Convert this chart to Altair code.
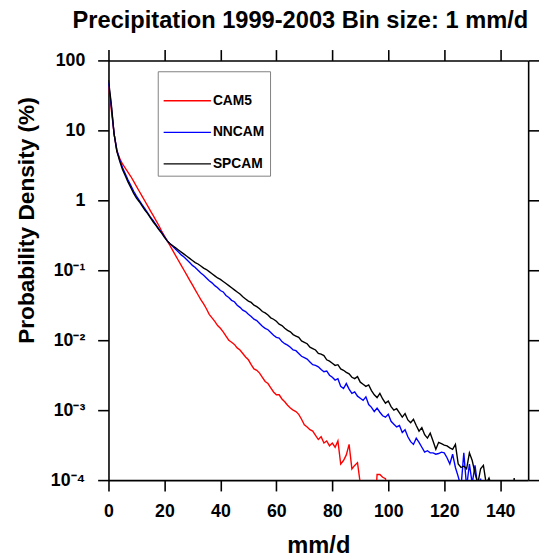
import altair as alt
import pandas as pd

x_ticks = [0, 20, 40, 60, 80, 100, 120, 140]
y_ticks = [1e-4, 1e-3, 1e-2, 1e-1, 1, 10, 100]
series_names = ["CAM5", "NNCAM", "SPCAM"]
series_colors = ["#ff0000", "#0000ff", "#000000"]

# log10 of probability density (%) per 1 mm/d bin, starting at 0 mm/d
cam5_log = [
    1.63, 1.30, 0.95, 0.70, 0.60, 0.52, 0.46, 0.40, 0.34, 0.27,
    0.20, 0.13, 0.06, -0.01, -0.08, -0.15, -0.22, -0.29, -0.36, -0.44,
    -0.51, -0.58, -0.65, -0.72, -0.79, -0.86, -0.93, -1.00, -1.07, -1.14,
    -1.21, -1.28, -1.35, -1.42, -1.48, -1.55, -1.63, -1.68, -1.73, -1.79,
    -1.83, -1.88, -1.94, -2.00, -2.03, -2.06, -2.11, -2.14, -2.19, -2.24,
    -2.28, -2.35, -2.41, -2.43, -2.47, -2.53, -2.59, -2.62, -2.68, -2.74,
    -2.78, -2.78, -2.84, -2.88, -2.93, -2.97, -3.00, -3.02, -3.06, -3.13,
    -3.21, -3.24, -3.28, -3.30, -3.36, -3.42, -3.38, -3.47, -3.44, -3.51,
    -3.47, -3.53, -3.44, -3.77, -3.72, -3.64, -3.49, -3.84, -3.79, -3.75,
    -4.05, -4.30, -4.60, -4.60, -4.60, -4.60, -3.92, -3.92, -3.96, -3.98,
    -4.30,
]
nncam_log = [
    1.68, 1.35, 0.95, 0.72, 0.58, 0.47, 0.38, 0.29, 0.21, 0.13,
    0.06, 0.00, -0.06, -0.12, -0.18, -0.24, -0.29, -0.35, -0.41, -0.46,
    -0.52, -0.58, -0.62, -0.66, -0.70, -0.74, -0.78, -0.81, -0.85, -0.89,
    -0.93, -0.96, -1.00, -1.04, -1.07, -1.11, -1.15, -1.18, -1.22, -1.25,
    -1.29, -1.31, -1.36, -1.39, -1.43, -1.45, -1.50, -1.53, -1.57, -1.59,
    -1.63, -1.66, -1.70, -1.72, -1.76, -1.80, -1.83, -1.85, -1.89, -1.93,
    -1.96, -1.97, -2.02, -2.05, -2.07, -2.10, -2.14, -2.15, -2.19, -2.23,
    -2.25, -2.27, -2.31, -2.35, -2.36, -2.38, -2.42, -2.45, -2.44, -2.50,
    -2.53, -2.57, -2.55, -2.66, -2.69, -2.62, -2.70, -2.76, -2.74, -2.80,
    -2.83, -2.86, -2.81, -2.92, -2.96, -3.02, -2.97, -3.03, -3.08, -3.10,
    -3.06, -3.16, -3.20, -3.24, -3.22, -3.32, -3.28, -3.38, -3.45, -3.49,
    -3.40, -3.46, -3.53, -3.60, -3.58, -3.61, -3.61, -3.63, -3.62, -3.60,
    -3.61, -3.68, -3.77, -3.63, -3.82, -3.95, -4.10, -3.61, -4.10, -3.77,
    -4.05, -3.79, -4.10, -3.98, -4.30, -4.60, -4.60,
]
spcam_log = [
    1.72, 1.38, 0.95, 0.70, 0.56, 0.44, 0.35, 0.26, 0.18, 0.10,
    0.03, -0.02, -0.08, -0.14, -0.19, -0.25, -0.31, -0.36, -0.42, -0.47,
    -0.53, -0.58, -0.62, -0.65, -0.68, -0.71, -0.74, -0.77, -0.80, -0.83,
    -0.86, -0.89, -0.91, -0.94, -0.97, -0.99, -1.02, -1.05, -1.08, -1.11,
    -1.13, -1.16, -1.19, -1.22, -1.25, -1.28, -1.31, -1.34, -1.38, -1.41,
    -1.44, -1.46, -1.50, -1.52, -1.55, -1.59, -1.61, -1.64, -1.68, -1.70,
    -1.73, -1.77, -1.79, -1.83, -1.86, -1.88, -1.92, -1.94, -1.96, -2.01,
    -2.03, -2.05, -2.10, -2.12, -2.14, -2.19, -2.20, -2.22, -2.28, -2.30,
    -2.33, -2.36, -2.35, -2.41, -2.43, -2.46, -2.48, -2.53, -2.55, -2.52,
    -2.60, -2.63, -2.66, -2.64, -2.72, -2.78, -2.82, -2.76, -2.84, -2.90,
    -2.87, -2.95, -3.00, -2.98, -3.04, -3.10, -3.05, -3.14, -3.18, -3.13,
    -3.22, -3.30, -3.25, -3.35, -3.40, -3.33, -3.44, -3.56, -3.46, -3.48,
    -3.50, -3.51, -3.54, -3.56, -3.49, -3.77, -3.82, -3.80, -3.84, -3.61,
    -3.72, -3.90, -4.05, -3.84, -3.79, -4.05, -3.97, -4.10, -4.30, -4.60,
    -4.60, -4.60, -4.60, -4.60, -4.60, -3.97, -4.60,
]

rows = []
for name, logs in zip(series_names, [cam5_log, nncam_log, spcam_log]):
    for i, lv in enumerate(logs):
        rows.append({"rain": i, "pdf": 10 ** lv, "model": name})
df = pd.DataFrame(rows)

FONT = "Liberation Sans"
xscale = alt.Scale(domain=[0, 150], nice=False, zero=False)
yscale = alt.Scale(type="log", domain=[1e-4, 100], nice=False)

label_expr = (
    "datum.value >= 1 ? format(datum.value, 'd') : "
    "datum.value > 0.05 ? '10⁻¹' : datum.value > 0.005 ? '10⁻²' : "
    "datum.value > 0.0005 ? '10⁻³' : '10⁻⁴'"
)

lines = alt.Chart(df).mark_line(clip=True, strokeWidth=1.4).encode(
    x=alt.X(
        "rain:Q", scale=xscale,
        axis=alt.Axis(
            orient="bottom", values=x_ticks, title="mm/d", labelFlush=False,
            labelPadding=12, titleFontSize=24, titleY=74, titleBaseline="alphabetic",
        ),
    ),
    y=alt.Y(
        "pdf:Q", scale=yscale,
        axis=alt.Axis(
            orient="left", values=y_ticks, labelExpr=label_expr,
            title="Probability Density (%)", labelFlush=False, labelPadding=13,
            titleFontSize=23, titleAngle=270, titleX=-83, titleY=162,
            titleBaseline="middle", titleAlign="center",
        ),
    ),
    color=alt.Color(
        "model:N",
        scale=alt.Scale(domain=series_names, range=series_colors),
        legend=alt.Legend(
            orient="none", legendX=50, legendY=11, title=None,
            symbolType="stroke", symbolSize=2304, symbolStrokeWidth=1.4,
            labelFont=FONT, labelFontSize=14, labelFontWeight="bold",
            labelColor="black", labelOffset=1, strokeColor="#808080",
            fillColor="white", padding=5, rowPadding=0,
        ),
    ),
)

frame = alt.Chart(df).mark_line(opacity=0).encode(
    x=alt.X(
        "rain:Q", scale=xscale,
        axis=alt.Axis(orient="top", values=x_ticks, labels=False, title=None),
    ),
    y=alt.Y(
        "pdf:Q", scale=yscale,
        axis=alt.Axis(orient="right", values=y_ticks, labels=False, title=None),
    ),
    detail="model:N",
)

chart = (
    alt.layer(lines, frame)
    .resolve_axis(x="independent", y="independent")
    .properties(
        width=426,
        height=426,
        title=alt.Title(
            "Precipitation 1999-2003 Bin size: 1 mm/d", anchor="end", frame="group",
            fontSize=24, font=FONT, fontWeight="bold", color="black", offset=16,
        ),
        autosize=alt.AutoSizeParams(type="none"),
        padding={"left": 102, "top": 49, "right": 11, "bottom": 84},
    )
    .configure_view(stroke=None)
    .configure_axis(
        domainColor="black", domainWidth=1.6, tickColor="black", tickWidth=1.6,
        tickSize=11, grid=False, labelFont=FONT, labelFontSize=18,
        labelFontWeight="bold", labelColor="black", titleFont=FONT,
        titleFontWeight="bold", titleColor="black",
    )
)

chart.save("out.html", embed_options={"renderer": "svg", "actions": False})
